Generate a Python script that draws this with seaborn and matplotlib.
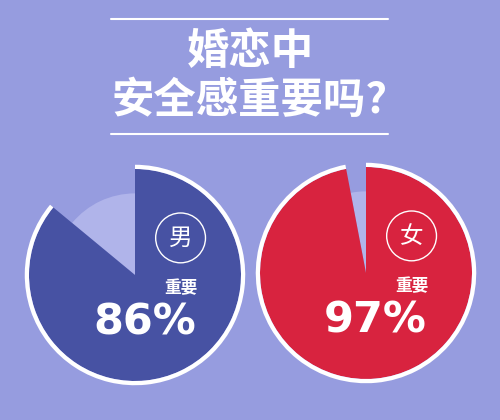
import matplotlib
matplotlib.use('Agg')
import matplotlib.pyplot as plt
import seaborn as sns
from matplotlib.patches import Circle

# chart data
genders = ['男', '女']
important = [86, 97]
label = '重要'
title = '婚恋中\n安全感重要吗?'

bg = '#969CDF'
main_colors = ['#4752A3', '#D8233F']
rest_color = '#B0B4EA'

sns.set_theme(style='white')
plt.rcParams['font.family'] = ['Noto Sans CJK SC', 'DejaVu Sans']

fig = plt.figure(figsize=(5, 4.2), dpi=100, facecolor=bg)

# title with lines above and below
fig.text(0.5, 0.818, title, ha='center', va='center', color='white',
         fontsize=30.5, fontweight='bold', linespacing=1.2)
for y in [0.955, 0.681]:
    fig.add_artist(plt.Line2D([0.222, 0.776], [y, y], color='white', lw=1.5))

# pie centres in pixels and radius
centres = [(135, 275), (366, 273)]
r_px = 106
lim = 1.2

for (cx, cy), g, v, col in zip(centres, genders, important, main_colors):
    w = 2 * lim * r_px / 500
    h = 2 * lim * r_px / 420
    ax = fig.add_axes([cx / 500 - w / 2, 1 - cy / 420 - h / 2, w, h])
    ax.set_facecolor('none')
    vals = [v, 100 - v]
    # lighter remainder
    ax.pie(vals, startangle=90, counterclock=False, radius=0.77,
           colors=['none', rest_color], wedgeprops=dict(linewidth=0))
    # main share
    ax.pie(vals, startangle=90, counterclock=False, radius=1.0,
           colors=[col, 'none'], wedgeprops=dict(linewidth=0))
    # white outline only on the main arc
    ax.pie(vals, startangle=90, counterclock=False, radius=1.04,
           colors=['white', 'none'], wedgeprops=dict(linewidth=0, width=0.04))
    ax.set_xlim(-lim, lim)
    ax.set_ylim(-lim, lim)
    ax.axis('off')

    ax.add_patch(Circle((0.43, 0.35), 0.235, fill=False, edgecolor='white', lw=1))
    ax.text(0.43, 0.345, g, ha='center', va='center', color='white', fontsize=17)
    ax.text(0.43, -0.12, label, ha='center', va='center', color='white',
            fontsize=12, fontweight='bold')
    ax.text(0.09, -0.45, f'{v}%', ha='center', va='center', color='white',
            fontsize=31, fontweight='bold', family='DejaVu Sans')

fig.savefig('out.png', dpi=100, facecolor=bg)
